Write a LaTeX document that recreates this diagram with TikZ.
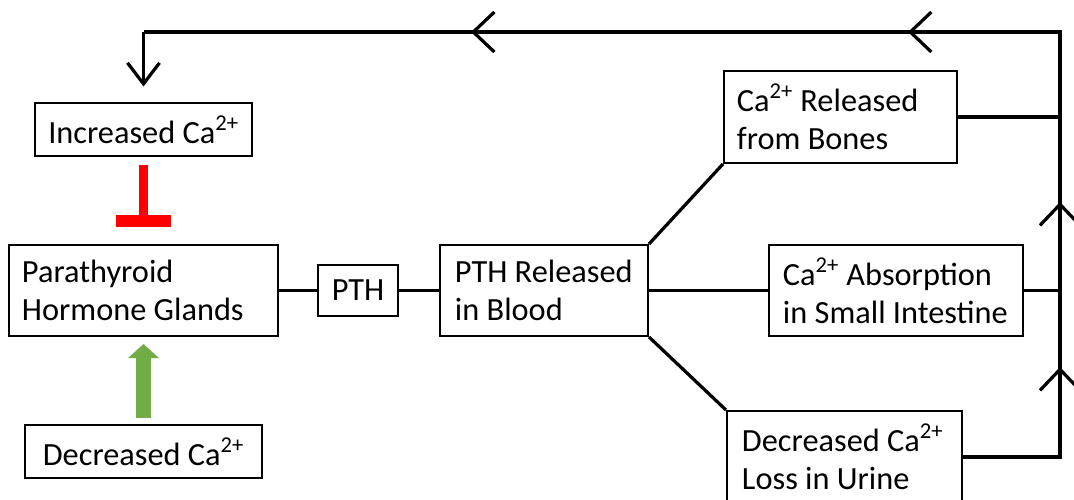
\documentclass[tikz,border=0pt]{standalone}
\usepackage{fontspec}
\setmainfont{Carlito}
\usepackage{tikz}
\usetikzlibrary{arrows.meta, positioning, calc}
\definecolor{inhibred}{RGB}{255,0,0}
\definecolor{boostgreen}{RGB}{112,173,71}

\begin{document}
\begin{tikzpicture}[
    x=0.025cm, y=-0.025cm,
    box/.style={draw, line width=1.4pt, font=\fontsize{23}{27}\selectfont, minimum height=#1, inner ysep=0pt},
    box/.default=1.325cm,
    line/.style={line width=2.3pt},
    barb/.style={line width=2.3pt, -{Straight Barb[length=0.525cm, width=1cm]}},
    inhibit/.style={inhibred, line width=0.225cm, -{Rectangle[length=0.3cm, width=1.375cm]}},
    boost/.style={boostgreen, line width=0.35cm, -{Triangle[length=0.35cm, width=0.75cm]}}
]
    \useasboundingbox (0,0) rectangle (1074,500);

    % Left column
    \node[box, minimum width=5.425cm] (inc) at (143.5,129.5) {Increased Ca\textsuperscript{2+}};
    \node[box=2.275cm, text width=6.075cm, inner xsep=0.325cm, align=flush left] (para) at (143.5,290.5) {Parathyroid\\Hormone Glands};
    \node[box, minimum width=5.925cm] (dec) at (143.5,451.5) {Decreased Ca\textsuperscript{2+}};

    % Hormone path
    \node[box=1.275cm, minimum width=2cm] (pth) at (358,290.5) {PTH};
    \node[box=2.275cm, text width=4.45cm, inner xsep=0.375cm, align=flush left] (rel) at (544,290.5) {PTH Released\\in Blood};

    % Effects
    \node[box=2.3cm, text width=5.175cm, inner xsep=0.325cm, align=flush left] (bones) at (840.5,117) {Ca\textsuperscript{2+} Released\\from Bones};
    \node[box=2.275cm, text width=5.65cm, inner xsep=0.35cm, align=flush left] (abs) at (896,290.5) {Ca\textsuperscript{2+} Absorption\\in Small Intestine};
    \node[box=2.3cm, text width=5.125cm, inner xsep=0.375cm, align=flush left] (loss) at (844.5,457) {Decreased Ca\textsuperscript{2+}\\Loss in Urine};

    % Feedback corners and arrow points
    \coordinate (tr) at (1060,32);
    \coordinate (tl) at (inc.north |- tr);
    \coordinate (up1) at (1060,367);
    \coordinate (up2) at (1060,202);
    \coordinate (lf1) at (908,32);
    \coordinate (lf2) at (471,32);

    % Links
    \draw[line] (para) -- (pth);
    \draw[line] (pth) -- (rel);
    \draw[line] (rel) -- (abs);
    \draw[line] (rel.north east) -- (bones.south west);
    \draw[line] (rel.south east) -- (loss.north west);
    \draw[line] (bones.east) -- (bones.east -| tr);
    \draw[line] (abs.east) -- (abs.east -| tr);

    % Feedback loop
    \draw[line] (loss.east) -- (loss.east -| tr) -- (tr) -- (tl);
    \draw[line, -{Straight Barb[length=0.525cm, width=0.8cm]}, shorten >=11] (tl) -- (inc.north);
    \draw[barb] (loss.east -| tr) -- (up1);
    \draw[barb] (abs.east -| tr) -- (up2);
    \draw[barb] (tr) -- (lf1);
    \draw[barb] (lf1) -- (lf2);

    % Regulation
    \draw[inhibit, shorten <=0.2cm, shorten >=0.425cm] (inc.south) -- (para.north);
    \draw[boost, shorten <=0.15cm, shorten >=0.175cm] (dec.north) -- (para.south);
\end{tikzpicture}
\end{document}
